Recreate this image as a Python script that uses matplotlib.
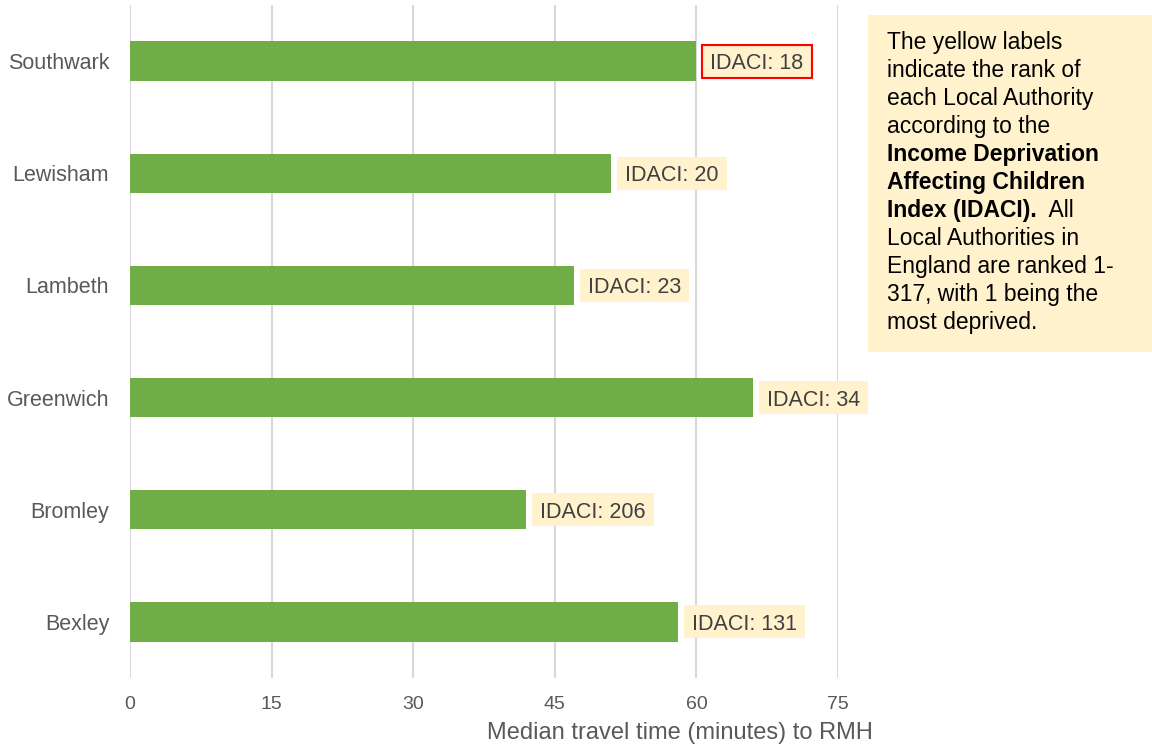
import matplotlib
matplotlib.use("Agg")
import matplotlib.pyplot as plt
from matplotlib.patches import Rectangle
from matplotlib.transforms import IdentityTransform

plt.rcParams['font.family'] = ['Liberation Sans', 'DejaVu Sans']

authorities = ["Southwark", "Lewisham", "Lambeth", "Greenwich", "Bromley", "Bexley"]
travel_minutes = [60, 51, 47, 66, 42, 58]
idaci_rank = [18, 20, 23, 34, 206, 131]
highlighted = "Southwark"
x_ticks = [0, 15, 30, 45, 60, 75]

BAR_GREEN = "#70AD47"
LABEL_FILL = "#FFF2CC"
GRID_GREY = "#D9D9D9"
TEXT_GREY = "#595959"

W, H = 1152, 750
fig = plt.figure(figsize=(W / 100, H / 100), dpi=100)
ax = fig.add_axes([130 / W, 1 - 678 / H, (838 - 130) / W, (678 - 5) / H])

ypos = list(range(len(authorities)))
ax.barh(ypos, travel_minutes, height=0.35, color=BAR_GREEN, zorder=2)
ax.set_ylim(len(authorities) - 0.5, -0.5)
ax.set_xlim(0, 75)
ax.set_yticks(ypos)
ax.set_yticklabels(authorities)
ax.set_xticks(x_ticks)
ax.tick_params(axis='both', length=0, labelcolor=TEXT_GREY)
ax.tick_params(axis='y', pad=15, labelsize=15.5)
ax.tick_params(axis='x', pad=13, labelsize=14)
ax.grid(axis='x', color=GRID_GREY, linewidth=1.5, zorder=0)
for s in ax.spines.values():
    s.set_visible(False)

ax.set_xlabel("Median travel time (minutes) to RMH", fontsize=17, color=TEXT_GREY)
ax.xaxis.label.set_va('center')
ax.xaxis.set_label_coords((680 - 130) / (838 - 130), -(733 - 678) / (678 - 5))

renderer = fig.canvas.get_renderer()
px = IdentityTransform()

# IDACI rank labels beside each bar, each on its own pale yellow box
for y, (name, val, rank) in enumerate(zip(authorities, travel_minutes, idaci_rank)):
    cx, cy = ax.transData.transform((val, y))
    box_left = cx + 6
    t = ax.text(box_left + 8, cy, f"IDACI: {rank}", transform=px,
                ha="left", va="center_baseline", fontsize=15.5, color="#404040",
                clip_on=False, zorder=4)
    tw = t.get_window_extent(renderer=renderer).width
    ax.add_patch(Rectangle((box_left, cy - 16.5), tw + 16, 33, transform=px,
                           facecolor=LABEL_FILL,
                           edgecolor="#FF0000" if name == highlighted else "none",
                           linewidth=1.5, zorder=3, clip_on=False))

# Explanatory note on the right
fig.patches.append(Rectangle((868 / W, 1 - 352 / H), (W - 868) / W,
                             (352 - 15) / H, transform=fig.transFigure,
                             facecolor=LABEL_FILL, edgecolor="none", zorder=0))

note_lines = [
    [("The yellow labels", "normal")],
    [("indicate the rank of", "normal")],
    [("each Local Authority", "normal")],
    [("according to the", "normal")],
    [("Income Deprivation", "bold")],
    [("Affecting Children", "bold")],
    [("Index (IDACI).", "bold"), ("  All", "normal")],
    [("Local Authorities in", "normal")],
    [("England are ranked 1-", "normal")],
    [("317, with 1 being the", "normal")],
    [("most deprived.", "normal")],
]

x0 = 887
y0 = 42
line_step = 28.1
for i, segments in enumerate(note_lines):
    xpix = x0
    ypix = y0 + i * line_step
    for text, weight in segments:
        t = fig.text(xpix / W, 1 - ypix / H, text, fontsize=16.5, fontweight=weight,
                     color="black", ha="left", va="center")
        xpix += t.get_window_extent(renderer=renderer).width

fig.savefig("out.png", dpi=100)
